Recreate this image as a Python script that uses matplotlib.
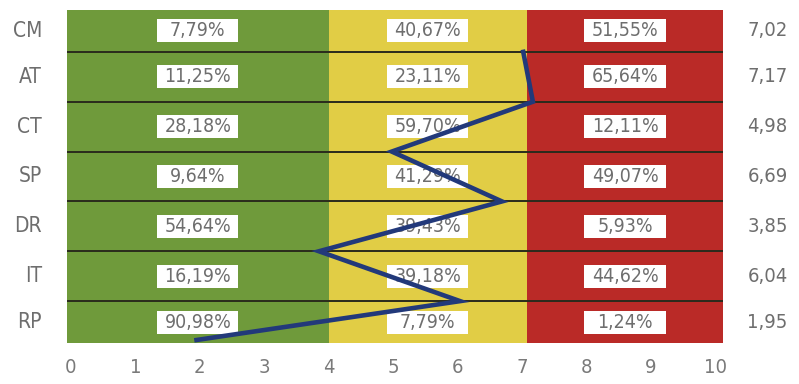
import numpy as np
import matplotlib.pyplot as plt
from matplotlib.patches import Rectangle
import matplotlib.transforms as mtransforms

# ---------------- data
cats = ["CM", "AT", "CT", "SP", "DR", "IT", "RP"]
green_pct = ["7,79%", "11,25%", "28,18%", "9,64%", "54,64%", "16,19%", "90,98%"]
yellow_pct = ["40,67%", "23,11%", "59,70%", "41,29%", "39,43%", "39,18%", "7,79%"]
red_pct = ["51,55%", "65,64%", "12,11%", "49,07%", "5,93%", "44,62%", "1,24%"]
scores = [7.02, 7.17, 4.98, 6.69, 3.85, 6.04, 1.95]
score_txt = ["7,02", "7,17", "4,98", "6,69", "3,85", "6,04", "1,95"]
ticks = list(range(0, 11))

# ---------------- style
GREEN = "#6f9a3b"
YELLOW = "#e1cd45"
RED = "#ba2a27"
NAVY = "#22397a"
TXT = "#6e6e6e"


def fnt(size):
    return dict(family="DejaVu Sans", stretch="condensed", fontsize=size)


XLO, XHI = -0.06, 10.12
YLO, YHI = 0.16, 6.84
bands = [(XLO, 4.0, GREEN), (4.0, 7.08, YELLOW), (7.08, XHI, RED)]

fig = plt.figure(figsize=(7.99, 3.84), dpi=100)
ax = fig.add_axes([67 / 799, 1 - 343 / 384, 656 / 799, 333 / 384])
ax.set_xlim(XLO, XHI)
ax.set_ylim(YLO, YHI)

for x0, x1, c in bands:
    ax.axvspan(x0, x1, color=c, lw=0, zorder=0)

n = len(cats)
# row edges (top row = CM)
edges = [YHI] + list(range(n - 1, 0, -1)) + [YLO]
for y in range(1, n):
    ax.axhline(y, color="#2a2a1c", lw=1.4, zorder=1)

box_w, box_h = 1.26, 0.46
trans = mtransforms.blended_transform_factory(ax.transAxes, ax.transData)
for i, cat in enumerate(cats):
    top, bot = edges[i], edges[i + 1]
    yc = (top + bot) / 2
    for (x0, x1, _), lab in zip(bands, [green_pct[i], yellow_pct[i], red_pct[i]]):
        xc = (x0 + x1) / 2
        ax.add_patch(Rectangle((xc - box_w / 2, yc - box_h / 2), box_w, box_h,
                               facecolor="white", lw=0, zorder=2))
        ax.text(xc, yc, lab, ha="center", va="center", color=TXT, zorder=3, **fnt(14))
    ax.text(-0.038, yc, cat, transform=trans, ha="right", va="center",
            color=TXT, **fnt(15))
    ax.text(1.037, yc, score_txt[i], transform=trans, ha="left", va="center",
            color=TXT, **fnt(14.5))

# score line: points sit on the lower edge of each row
line_y = [max(edges[i + 1], YLO + 0.06) for i in range(n)]
ax.plot(scores, line_y, color=NAVY, lw=3.3, solid_joinstyle="miter", zorder=4)

ax.set_xticks(ticks)
ax.set_xticklabels([str(t) for t in ticks], color="#7a7a7a", **fnt(14.5))
ax.tick_params(axis="x", length=0, pad=11)
ax.set_yticks([])
for s in ax.spines.values():
    s.set_visible(False)

fig.savefig("out.png", dpi=100)
